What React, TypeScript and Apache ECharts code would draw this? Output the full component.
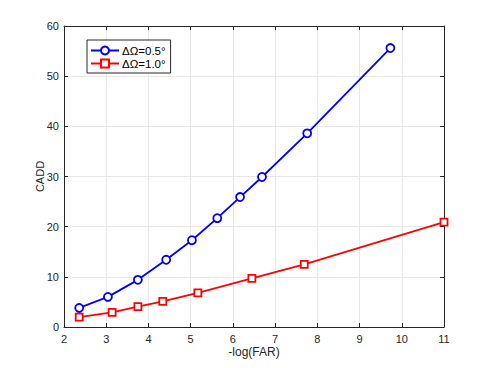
import React, { useEffect, useRef } from "react";
import * as echarts from "echarts";

const xBlue = [2.36, 3.04, 3.75, 4.42, 5.03, 5.63, 6.17, 6.69, 7.76, 9.73];
const yBlue = [3.8, 6.0, 9.4, 13.4, 17.3, 21.7, 25.9, 29.9, 38.6, 55.6];
const xRed = [2.36, 3.14, 3.75, 4.34, 5.17, 6.45, 7.69, 11.0];
const yRed = [1.95, 2.9, 4.05, 5.1, 6.8, 9.7, 12.5, 20.9];
const seriesNames = ["\u0394\u03a9=0.5\u00b0", "\u0394\u03a9=1.0\u00b0"];
const xName = "-log(FAR)";
const yName = "CADD";

const FONT = "'Liberation Sans', Arial, Helvetica, sans-serif";
const AX = "#262626";
const GRID = "#e8e8e8";

export default function App() {
  const ref = useRef<HTMLDivElement>(null);
  useEffect(() => {
    if (!ref.current) return;
    const chart = echarts.init(ref.current, undefined, { renderer: "svg" });
    const commonX = { type: "value" as const, min: 2, max: 11, interval: 1 };
    const commonY = { type: "value" as const, min: 0, max: 60, interval: 10 };
    const tick = { show: true, inside: true, length: 4, lineStyle: { color: AX } };
    const line = { show: true, onZero: false, lineStyle: { color: AX, width: 1 } };
    chart.setOption({
      animation: false,
      textStyle: { fontFamily: FONT },
      grid: { left: 64, right: 47, top: 26, bottom: 41, containLabel: false },
      legend: {
        orient: "vertical",
        left: 87,
        top: 40,
        padding: [4, 3, 3, 3],
        itemGap: 0,
        itemWidth: 28,
        itemHeight: 10,
        backgroundColor: "#ffffff",
        borderColor: AX,
        borderWidth: 1,
        borderRadius: 0,
        textStyle: { fontFamily: FONT, fontSize: 11.5, lineHeight: 13, color: "#000", padding: [0, 2, 0, -2] },
        data: seriesNames,
      },
      xAxis: [
        {
          ...commonX,
          position: "bottom",
          name: xName,
          nameLocation: "middle",
          nameGap: 19,
          nameMoveOverlap: false,
          nameTextStyle: { fontFamily: FONT, fontSize: 12, color: AX },
          axisLine: line,
          axisTick: tick,
          axisLabel: { margin: 6, fontFamily: FONT, fontSize: 11, color: AX },
          splitLine: { show: true, lineStyle: { color: GRID, width: 1 } },
        },
        {
          ...commonX,
          position: "top",
          axisLine: line,
          axisTick: tick,
          axisLabel: { show: false },
          splitLine: { show: false },
        },
      ],
      yAxis: [
        {
          ...commonY,
          position: "left",
          name: yName,
          nameLocation: "middle",
          nameGap: 19,
          nameMoveOverlap: false,
          nameTextStyle: { fontFamily: FONT, fontSize: 11, color: AX },
          axisLine: line,
          axisTick: tick,
          axisLabel: { margin: 5, fontFamily: FONT, fontSize: 11, color: AX },
          splitLine: { show: true, lineStyle: { color: GRID, width: 1 } },
        },
        {
          ...commonY,
          position: "right",
          axisLine: line,
          axisTick: tick,
          axisLabel: { show: false },
          splitLine: { show: false },
        },
      ],
      series: [
        {
          name: seriesNames[0],
          type: "line",
          data: xBlue.map((x, i) => [x, yBlue[i]]),
          symbol: "circle",
          symbolSize: 8,
          showAllSymbol: true,
          lineStyle: { color: "#0000ff", width: 1.8 },
          itemStyle: { color: "#ffffff", borderColor: "#0000ff", borderWidth: 1.8 },
          z: 3,
        },
        {
          name: seriesNames[1],
          type: "line",
          data: xRed.map((x, i) => [x, yRed[i]]),
          symbol: "rect",
          symbolSize: 7,
          showAllSymbol: true,
          lineStyle: { color: "#ff0000", width: 1.8 },
          itemStyle: { color: "#ffffff", borderColor: "#ff0000", borderWidth: 1.8 },
          z: 3,
        },
      ],
    });
    return () => chart.dispose();
  }, []);
  return <div ref={ref} style={{ width: 491, height: 368, position: "absolute", left: 0, top: 0 }} />;
}
